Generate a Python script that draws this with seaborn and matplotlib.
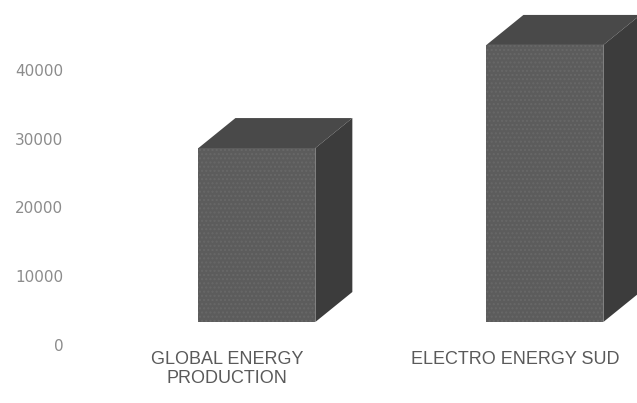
import matplotlib
matplotlib.use("Agg")
import matplotlib.pyplot as plt
import matplotlib.transforms as mtransforms
from matplotlib.patches import Polygon
import numpy as np
import seaborn as sns

# data
categories = ["GLOBAL ENERGY\nPRODUCTION", "ELECTRO ENERGY SUD"]
values = [25300, 40300]
y_ticks = [0, 10000, 20000, 30000, 40000]

FRONT = "#5c5c5c"
TOP = "#494949"
SIDE = "#3c3c3c"
BAR_W = 0.406
# pixel offsets of the 3D look (floor front -> bar front -> bar back)
FRONT_OFF = (30, 23)
DEPTH = (37, 30)

sns.set_style("white")
fig = plt.figure(figsize=(6.37, 4.03), dpi=100)
ax = fig.add_axes([80 / 637, 58 / 403, 557 / 637, 343.75 / 403])

sns.barplot(x=categories, y=values, color=FRONT, width=BAR_W, ax=ax,
            saturation=1, linewidth=0, hatch="....", edgecolor="#686868")
ax.set_xlim(-0.51, 1.424)
ax.set_ylim(0, 50000)

front_tr = mtransforms.offset_copy(ax.transData, fig=fig, x=FRONT_OFF[0],
                                   y=FRONT_OFF[1], units="dots")
ident = mtransforms.IdentityTransform()
for patch in ax.patches[:len(values)]:
    x0, y0 = patch.get_x(), patch.get_y()
    x1, y1 = x0 + patch.get_width(), y0 + patch.get_height()
    patch.set_transform(front_tr)
    patch.set_clip_on(False)
    patch.set_zorder(3)
    pts = ax.transData.transform([(x0, y0), (x1, y0), (x1, y1), (x0, y1)])
    pts = pts + np.array(FRONT_OFF)
    back = pts + np.array(DEPTH)
    top = Polygon([pts[3], pts[2], back[2], back[3]], closed=True,
                  transform=ident, facecolor=TOP, edgecolor="none",
                  clip_on=False, zorder=2)
    side = Polygon([pts[1], back[1], back[2], pts[2]], closed=True,
                   transform=ident, facecolor=SIDE, edgecolor="none",
                   clip_on=False, zorder=2)
    ax.add_artist(top)
    ax.add_artist(side)

ax.set_yticks(y_ticks)
ax.set_yticklabels([str(v) for v in y_ticks], fontsize=11, color="#8c8c8c",
                   family="DejaVu Sans")
ax.tick_params(axis="y", length=0, pad=12)
ax.tick_params(axis="x", length=0, pad=4)
for lab in ax.get_xticklabels():
    lab.set_fontsize(13)
    lab.set_family("Liberation Sans")
    lab.set_color("#5a5a5a")
    lab.set_linespacing(1.15)
ax.set_xlabel("")
ax.set_ylabel("")
sns.despine(ax=ax, left=True, bottom=True)

fig.savefig("out.png", dpi=100)
